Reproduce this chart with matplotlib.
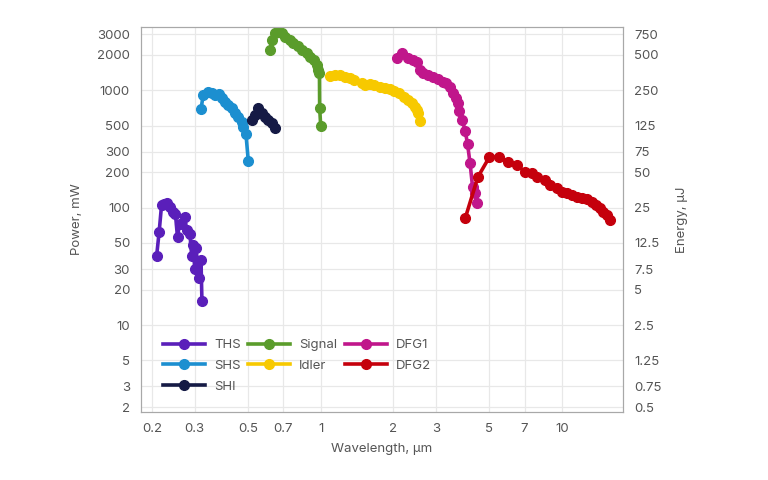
import numpy as np
import matplotlib
matplotlib.use("Agg")
import matplotlib.pyplot as plt
from matplotlib.ticker import FixedLocator, NullLocator, FuncFormatter

plt.rcParams["font.family"] = ["Inter", "DejaVu Sans"]

# wavelength (um) / average power (mW)
ths_x = [0.209, 0.214, 0.219, 0.224, 0.230, 0.237, 0.245, 0.250, 0.255, 0.260,
         0.274, 0.278, 0.287, 0.292, 0.295, 0.301, 0.304, 0.314, 0.319, 0.322]
ths_y = [39, 62, 105, 108, 110, 102, 92, 88, 56, 73,
         83, 64, 60, 39, 48, 30, 45, 25, 36, 16]

shs_x = [0.319, 0.326, 0.342, 0.353, 0.365, 0.380, 0.389, 0.401, 0.414, 0.428,
         0.442, 0.455, 0.471, 0.478, 0.490, 0.501]
shs_y = [687, 910, 970, 951, 910, 927, 852, 797, 747, 700,
         635, 594, 539, 489, 423, 251]

shi_x = [0.518, 0.536, 0.551, 0.570, 0.588, 0.606, 0.626, 0.645]
shi_y = [557, 614, 700, 635, 594, 557, 522, 473]

sig_x = [0.616, 0.628, 0.647, 0.665, 0.691, 0.713, 0.748, 0.768, 0.803, 0.838,
         0.878, 0.906, 0.935, 0.969, 0.978, 0.988, 0.990, 1.0]
sig_y = [2198, 2673, 3069, 3190, 3069, 2838, 2673, 2521, 2377, 2198,
         2070, 1914, 1806, 1637, 1486, 1400, 705, 495]

idl_x = [1.094, 1.146, 1.20, 1.26, 1.32, 1.38, 1.48, 1.52, 1.60, 1.67, 1.76,
         1.84, 1.93, 2.02, 2.12, 2.22, 2.30, 2.38, 2.46, 2.50, 2.54, 2.58]
idl_y = [1319, 1346, 1346, 1302, 1262, 1220, 1157, 1106, 1128, 1106, 1069,
         1037, 1016, 988, 939, 879, 824, 773, 723, 678, 635, 549]

dfg1_x = [2.08, 2.18, 2.30, 2.42, 2.51, 2.58, 2.66, 2.79, 2.92, 3.06, 3.21, 3.32,
          3.43, 3.53, 3.65, 3.71, 3.76, 3.86, 3.97, 4.06, 4.16, 4.26, 4.37, 4.44]
dfg1_y = [1868, 2060, 1868, 1806, 1746, 1486, 1391, 1346, 1302, 1237, 1181, 1143,
          1069, 939, 852, 773, 668, 557, 452, 348, 238, 150, 132, 109]

dfg2_x = [3.97, 4.48, 5.0, 5.5, 5.99, 6.5, 7.03, 7.5, 7.9, 8.5, 8.9, 9.5, 10.0,
          10.5, 11.0, 11.5, 12.1, 12.7, 13.3, 13.9, 14.4, 14.8, 15.3, 15.8]
dfg2_y = [81, 182, 269, 269, 244, 230, 201, 196, 182, 172, 156, 147, 135,
          133, 128, 123, 121, 118, 111, 106, 100, 92, 86, 78]

series = [
    ("THS", ths_x, ths_y, "#5a1fba"),
    ("SHS", shs_x, shs_y, "#1c8fd0"),
    ("SHI", shi_x, shi_y, "#151a45"),
    ("Signal", sig_x, sig_y, "#5a9c2b"),
    ("Idler", idl_x, idl_y, "#f7c900"),
    ("DFG1", dfg1_x, dfg1_y, "#c0168b"),
    ("DFG2", dfg2_x, dfg2_y, "#c5000c"),
]

x_ticks = [0.2, 0.3, 0.5, 0.7, 1, 2, 3, 5, 7, 10]
p_ticks = [2, 3, 5, 10, 20, 30, 50, 100, 200, 300, 500, 1000, 2000, 3000]
e_ticks = [0.5, 0.75, 1.25, 2.5, 5, 7.5, 12.5, 25, 50, 75, 125, 250, 500, 750]
xlim = (0.18, 17.9)
ylim = (1.82, 3450)

txt = "#555555"
fig = plt.figure(figsize=(7.68, 4.8), dpi=100)
ax = fig.add_axes([0.1836, 0.1417, 0.6276, 0.8021])

for name, xs, ys, c in series:
    ax.plot(xs, ys, color=c, lw=2.6, marker="o", ms=7, label=name, zorder=3)

ax.set_xscale("log")
ax.set_yscale("log")
ax.set_xlim(*xlim)
ax.set_ylim(*ylim)

fmt = FuncFormatter(lambda v, p: f"{v:g}")
ax.xaxis.set_major_locator(FixedLocator(x_ticks))
ax.xaxis.set_minor_locator(NullLocator())
ax.xaxis.set_major_formatter(fmt)
ax.yaxis.set_major_locator(FixedLocator(p_ticks))
ax.yaxis.set_minor_locator(NullLocator())
ax.yaxis.set_major_formatter(fmt)
ax.grid(True, color="#e8e8e8", lw=0.9, zorder=0)
ax.tick_params(length=0, labelsize=9.5, colors=txt, pad=8)
for s in ax.spines.values():
    s.set_color("#a8a8a8")
ax.set_xlabel("Wavelength, μm", color=txt, fontsize=9.5, labelpad=6)
ax.set_ylabel("Power, mW", color=txt, fontsize=9.5, labelpad=10)

# pulse energy axis: energy = power / 4
ax2 = ax.twinx()
ax2.set_yscale("log")
ax2.set_ylim(ylim[0] / 4, ylim[1] / 4)
ax2.yaxis.set_major_locator(FixedLocator(e_ticks))
ax2.yaxis.set_minor_locator(NullLocator())
ax2.yaxis.set_major_formatter(fmt)
ax2.tick_params(length=0, labelsize=9.5, colors=txt, pad=8)
for s in ax2.spines.values():
    s.set_color("#a8a8a8")
ax2.set_ylabel("Energy, μJ", color=txt, fontsize=9.5, labelpad=10)

leg = ax.legend(loc="lower left", bbox_to_anchor=(0.02, 0.019), ncol=3,
                frameon=False, fontsize=9.5, handlelength=3.2, columnspacing=0.55,
                labelspacing=0.65, handletextpad=0.7)
for t in leg.get_texts():
    t.set_color(txt)

fig.savefig("out.png", dpi=100)
